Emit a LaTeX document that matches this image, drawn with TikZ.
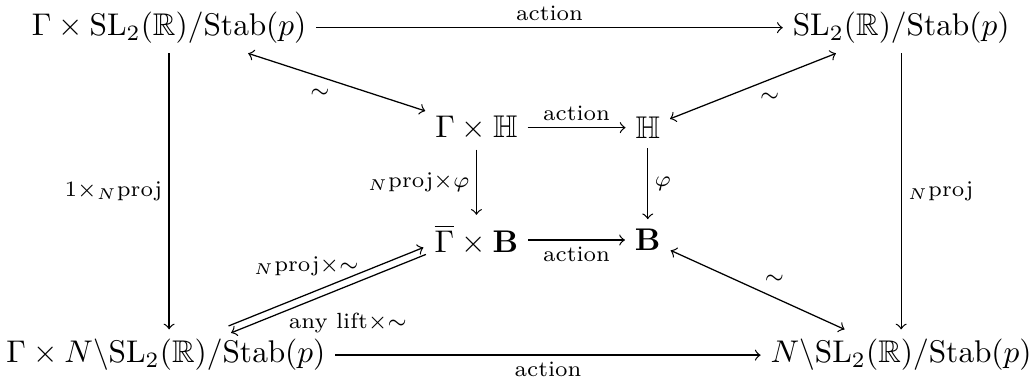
\documentclass[tikz,border=0pt]{standalone}
\usepackage{amsmath,amssymb}
\usetikzlibrary{positioning}

\begin{document}
\begin{tikzpicture}[auto, >=to]
  \tikzstyle{obj}=[inner sep=3pt]
  \tikzstyle{arr}=[->]
  \tikzstyle{iso}=[<->]
  \tikzstyle{lbl}=[font=\scriptsize, inner sep=2pt]
  \useasboundingbox (0,0) rectangle (11.6,4.29);
  % outer corners
  \node[obj](tl) at (1.895,3.98){$\Gamma\times\mathrm{SL}_2(\mathbb{R})/\mathrm{Stab}(p)$};
  \node[obj](tr) at (10.10,3.98){$\mathrm{SL}_2(\mathbb{R})/\mathrm{Stab}(p)$};
  \node[obj](bl) at (1.86,0.31){$\Gamma\times N\backslash\mathrm{SL}_2(\mathbb{R})/\mathrm{Stab}(p)$};
  \node[obj](br) at (10.10,0.31){$N\backslash\mathrm{SL}_2(\mathbb{R})/\mathrm{Stab}(p)$};
  % inner square
  \node[obj](gh) at (5.34,2.86){$\Gamma\times\mathbb{H}$};
  \node[obj](h) at (7.26,2.86){$\mathbb{H}$};
  \node[obj](gb) at (5.34,1.60){$\overline{\Gamma}\times\mathbf{B}$};
  \node[obj](b) at (7.26,1.60){$\mathbf{B}$};
  \coordinate (gbw) at ([yshift=-3.5pt]gb.west);
  % actions
  \draw[arr](tl)--node[lbl]{action}(tr);
  \draw[arr](gh)--node[lbl]{action}(h);
  \draw[arr](gb)--node[lbl,swap]{action}(b);
  \draw[arr](bl)--node[lbl,swap]{action}(br);
  % projections
  \draw[arr](tl)--node[lbl,swap]{$1{\times}{}_N\mathrm{proj}$}(tl|-bl.north);
  \draw[arr](tr)--node[lbl]{${}_N\mathrm{proj}$}(br);
  \draw[arr](gh)--node[lbl,swap]{${}_N\mathrm{proj}{\times}\varphi$}(gb);
  \draw[arr](h)--node[lbl]{$\varphi$}(b);
  % isomorphisms
  \draw[iso](gh)--node[lbl]{$\sim$}(tl);
  \draw[iso](h)--node[lbl,swap]{$\sim$}(tr);
  \draw[iso](b)--node[lbl]{$\sim$}(br);
  \draw[arr,transform canvas={shift={(-0.4pt,1.1pt)}}](bl)--
    node[lbl,pos=0.4,anchor=center,yshift=9pt]{${}_N\mathrm{proj}{\times}{\sim}$}(gbw);
  \draw[arr,transform canvas={shift={(0.4pt,-1.1pt)}}](gbw)--
    node[lbl,pos=0.4,anchor=center,yshift=-12pt]{any lift${\times}{\sim}$}(bl);
\end{tikzpicture}
\end{document}
